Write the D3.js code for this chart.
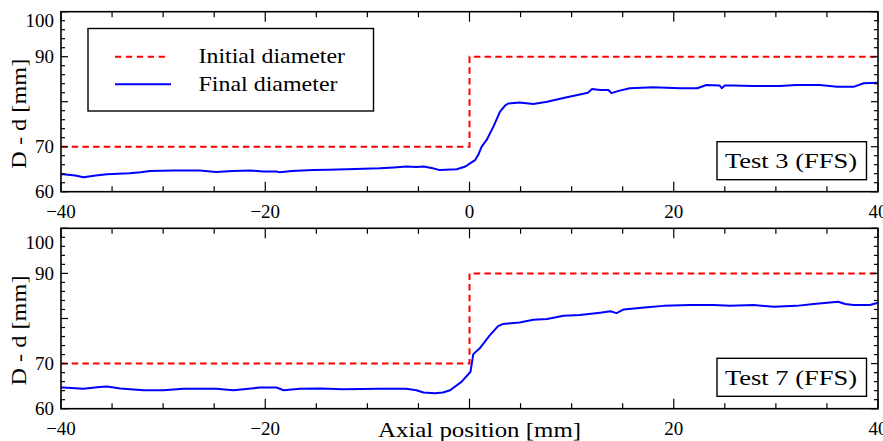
<!DOCTYPE html>
<html>
<head>
<meta charset="utf-8">
<script src="https://cdn.jsdelivr.net/npm/d3@7"></script>
<style>
  html, body { margin: 0; padding: 0; background: #fff; }
  svg { display: block; }
</style>
</head>
<body>
<svg id="chart" width="883" height="441" font-family="'Liberation Serif', 'Times New Roman', 'DejaVu Serif', serif"></svg>
<script>
// ---------------- data ----------------
const initX = [-40, 0, 0, 40];
const initY = [70, 70, 90, 90];

const test3X = [-40, -39.8, -38.6, -37.8, -36.6, -35.5, -33.3, -32.2, -31.3, -29.0, -26.4, -24.8, -23.2, -21.4, -20.2, -18.9, -18.6, -17.4, -15.3, -13.8, -12.0, -10.4, -8.8, -7.4, -6.2, -5.2, -4.5, -3.6, -2.9, -1.25, -0.4, 0.05, 0.54, 0.86, 1.19, 1.68, 2.33, 2.99, 3.5, 3.8, 4.9, 6.25, 7.6, 9.2, 10.8, 11.6, 12.0, 12.8, 13.6, 13.9, 14.6, 15.7, 18.0, 20.6, 22.3, 23.2, 24.5, 24.7, 25.0, 25.8, 27.8, 30.4, 32.0, 34.3, 36.0, 37.6, 38.6, 40];
const test3Y = [63.9, 63.9, 63.6, 63.2, 63.6, 63.9, 64.1, 64.3, 64.6, 64.7, 64.7, 64.4, 64.6, 64.7, 64.5, 64.5, 64.3, 64.6, 64.8, 64.9, 65.0, 65.1, 65.2, 65.4, 65.6, 65.5, 65.6, 65.2, 64.8, 65.0, 65.6, 66.3, 67.0, 68.2, 70.0, 71.5, 74.4, 77.8, 79.2, 79.6, 79.8, 79.5, 80.0, 80.8, 81.6, 82.0, 82.8, 82.6, 82.6, 81.9, 82.4, 83.0, 83.2, 83.0, 83.0, 83.7, 83.6, 83.0, 83.6, 83.6, 83.5, 83.5, 83.7, 83.7, 83.3, 83.3, 84.1, 84.2];

const test7X = [-40, -39.8, -37.8, -36.2, -35.5, -34.2, -31.9, -30.0, -28.0, -24.8, -23.1, -20.5, -18.9, -18.2, -16.6, -14.6, -12.4, -8.8, -6.2, -5.2, -4.5, -3.4, -2.6, -1.9, -0.76, 0.1, 0.37, 1.0, 2.0, 2.8, 3.3, 4.9, 6.25, 7.6, 9.2, 10.8, 12.8, 13.8, 14.4, 15.1, 17.4, 19.0, 21.6, 23.9, 25.5, 27.8, 29.8, 32.0, 33.7, 36.1, 36.8, 37.6, 39.2, 40];
const test7Y = [64.7, 64.7, 64.4, 64.8, 64.9, 64.5, 64.1, 64.1, 64.4, 64.4, 64.1, 64.7, 64.7, 64.1, 64.4, 64.5, 64.3, 64.4, 64.4, 64.1, 63.6, 63.4, 63.6, 64.1, 66.0, 68.2, 72.1, 73.4, 76.3, 78.3, 78.8, 79.1, 79.7, 79.9, 80.6, 80.8, 81.3, 81.6, 81.2, 82.0, 82.5, 82.8, 83.0, 83.0, 82.8, 83.0, 82.6, 82.8, 83.2, 83.7, 83.2, 83.0, 83.0, 83.5];

const panels = [
  { label: "Test 3 (FFS)", x: test3X, y: test3Y, legend: true, xlabel: false },
  { label: "Test 7 (FFS)", x: test7X, y: test7Y, legend: false, xlabel: true }
];
const xMajor = [-40, -20, 0, 20, 40];
const yMajorLabels = [60, 70, 90, 100];

// ---------------- layout ----------------
const svg = d3.select("#chart");
const left = 61, right = 878;
const tops = [11.7, 228.3], bottoms = [191.7, 408.7];
const x = d3.scaleLinear().domain([-40, 40]).range([left, right]);
const fmt = v => (v < 0 ? "\u2212" + Math.abs(v) : String(v));

panels.forEach((p, i) => {
  const y = d3.scaleLinear().domain([60, 100]).range([bottoms[i], tops[i]]);
  const g = svg.append("g");

  const line = d3.line().x(d => x(d[0])).y(d => y(d[1]));
  g.append("path")
    .datum(initX.map((v, k) => [v, initY[k]]))
    .attr("d", line)
    .attr("fill", "none").attr("stroke", "#ff0000").attr("stroke-width", 2)
    .attr("stroke-dasharray", "6.5,4.2");
  g.append("path")
    .datum(p.x.map((v, k) => [v, p.y[k]]))
    .attr("d", line)
    .attr("fill", "none").attr("stroke", "#0000ff").attr("stroke-width", 2)
    .attr("stroke-linejoin", "round");

  const tickG = g.append("g").attr("stroke", "#000").attr("stroke-width", 1.2);
  d3.range(-40, 40.001, 5).forEach(v => {
    const major = v % 20 === 0;
    const len = major ? 10 : 5.5;
    tickG.append("line").attr("x1", x(v)).attr("x2", x(v))
      .attr("y1", bottoms[i]).attr("y2", bottoms[i] - len);
    tickG.append("line").attr("x1", x(v)).attr("x2", x(v))
      .attr("y1", tops[i]).attr("y2", tops[i] + len);
  });
  d3.range(60, 100.001, 2).forEach(v => {
    const major = v % 10 === 0;
    const len = major ? 7 : 4;
    tickG.append("line").attr("y1", y(v)).attr("y2", y(v))
      .attr("x1", left).attr("x2", left + len);
    tickG.append("line").attr("y1", y(v)).attr("y2", y(v))
      .attr("x1", right).attr("x2", right - len);
  });

  g.append("rect").attr("x", left).attr("y", tops[i])
    .attr("width", right - left).attr("height", bottoms[i] - tops[i])
    .attr("fill", "none").attr("stroke", "#000").attr("stroke-width", 1.6);

  // x tick labels (the 0 label of the lower panel is replaced by the axis title)
  xMajor.forEach(v => {
    if (p.xlabel && v === 0) return;
    g.append("text").attr("x", x(v)).attr("y", bottoms[i] + 26)
      .attr("text-anchor", "middle").attr("font-size", 19).text(fmt(v));
  });
  yMajorLabels.forEach(v => {
    const yy = v === 100 ? y(v) + (i === 0 ? 9 : 14) : y(v);
    g.append("text").attr("x", 54).attr("y", yy + 6.5)
      .attr("text-anchor", "end").attr("font-size", 19).text(String(v));
  });

  const cy = (tops[i] + bottoms[i]) / 2 + 12;
  g.append("text")
    .attr("transform", `translate(26,${cy}) rotate(-90)`)
    .attr("text-anchor", "middle").attr("font-size", 21)
    .attr("textLength", 110).attr("lengthAdjust", "spacingAndGlyphs")
    .text("D - d [mm]");

  const bTop = tops[i] + 130;
  g.append("rect").attr("x", 717).attr("y", bTop).attr("width", 149.5).attr("height", 38)
    .attr("fill", "#fff").attr("stroke", "#000").attr("stroke-width", 1.4);
  g.append("text").attr("x", 725).attr("y", bTop + 26.5).attr("font-size", 22)
    .attr("textLength", 132).attr("lengthAdjust", "spacingAndGlyphs")
    .text(p.label);

  if (p.legend) {
    g.append("rect").attr("x", 88).attr("y", 28.5).attr("width", 285.5).attr("height", 82.5)
      .attr("fill", "#fff").attr("stroke", "#000").attr("stroke-width", 1.4);
    g.append("line").attr("x1", 115).attr("x2", 167).attr("y1", 56.7).attr("y2", 56.7)
      .attr("stroke", "#ff0000").attr("stroke-width", 2).attr("stroke-dasharray", "6.3,4.6");
    g.append("line").attr("x1", 115).attr("x2", 171).attr("y1", 84.3).attr("y2", 84.3)
      .attr("stroke", "#0000ff").attr("stroke-width", 2);
    g.append("text").attr("x", 198.5).attr("y", 63).attr("font-size", 22)
      .attr("textLength", 146.5).attr("lengthAdjust", "spacingAndGlyphs")
      .text("Initial diameter");
    g.append("text").attr("x", 198.5).attr("y", 90.5).attr("font-size", 22)
      .attr("textLength", 139).attr("lengthAdjust", "spacingAndGlyphs")
      .text("Final diameter");
  }

  if (p.xlabel) {
    g.append("text").attr("x", 378).attr("y", 437).attr("font-size", 22)
      .attr("textLength", 203).attr("lengthAdjust", "spacingAndGlyphs")
      .text("Axial position [mm]");
  }
});
</script>
</body>
</html>
